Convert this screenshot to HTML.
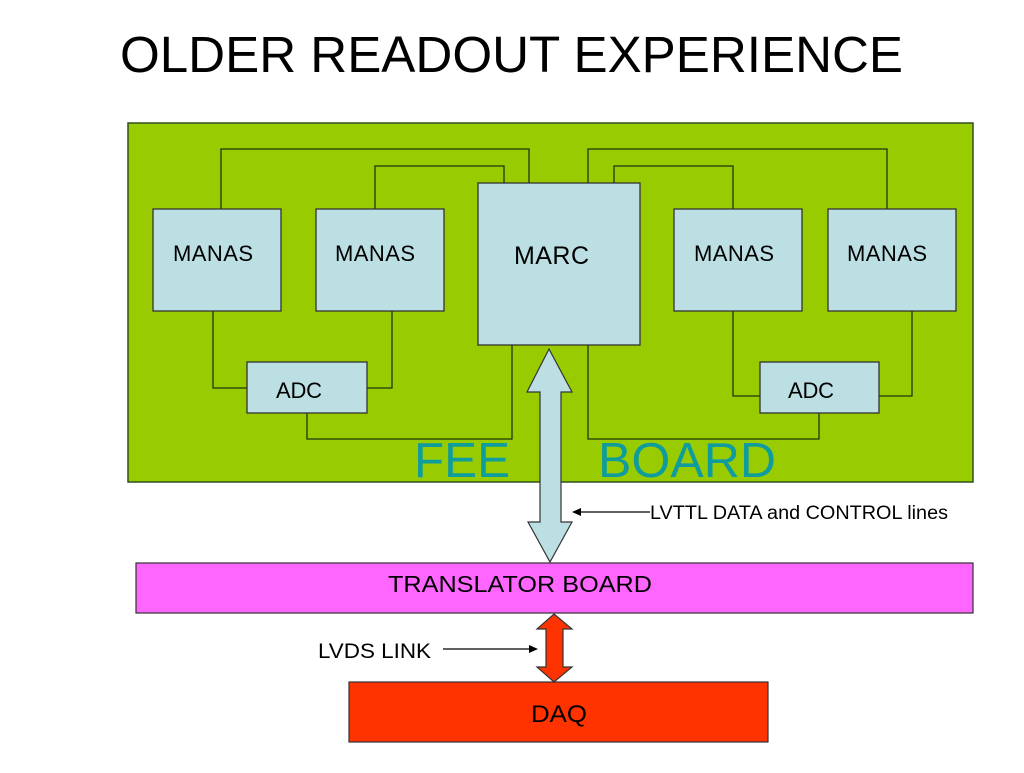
<!DOCTYPE html>
<html><head><style>
body{margin:0;width:1024px;height:768px;background:#fff;overflow:hidden;font-family:"Liberation Sans",sans-serif}
</style></head><body>
<svg width="1024" height="768" xmlns="http://www.w3.org/2000/svg" font-family="Liberation Sans, sans-serif">
<text x="120" y="72" font-size="51" textLength="783" lengthAdjust="spacingAndGlyphs" fill="#000">OLDER READOUT EXPERIENCE</text>
<rect x="128" y="123" width="845" height="359" fill="#99cc00" stroke="#2f4f1f" stroke-width="1.5"/>
<g fill="none" stroke="#223311" stroke-width="1.3">
<polyline points="221,209 221,149 529,149 529,183"/>
<polyline points="375,209 375,166 504,166 504,183"/>
<polyline points="213,311 213,388 247,388"/>
<polyline points="367,388 392,388 392,311"/>
<polyline points="307,413 307,439 512,439 512,345"/>
<polyline points="588,183 588,149 887,149 887,209"/>
<polyline points="614,183 614,166 733,166 733,209"/>
<polyline points="733,311 733,396 760,396"/>
<polyline points="879,396 912,396 912,311"/>
<polyline points="819,413 819,439 588,439 588,345"/>
</g>
<g fill="#bbdfe3" stroke="#333" stroke-width="1.3">
<rect x="478" y="183" width="162" height="162"/>
<rect x="153" y="209" width="128" height="102"/>
<rect x="316" y="209" width="128" height="102"/>
<rect x="674" y="209" width="128" height="102"/>
<rect x="828" y="209" width="128" height="102"/>
<rect x="247" y="362" width="120" height="51"/>
<rect x="760" y="362" width="119" height="51"/>
</g>
<g font-size="22" fill="#000" lengthAdjust="spacingAndGlyphs">
<text x="173" y="261" textLength="80">MANAS</text>
<text x="335" y="261" textLength="80">MANAS</text>
<text x="694" y="261" textLength="80">MANAS</text>
<text x="847" y="261" textLength="80">MANAS</text>
<text x="514" y="264" textLength="75" font-size="25">MARC</text>
<text x="276" y="398" textLength="46">ADC</text>
<text x="788" y="398" textLength="46">ADC</text>
</g>
<text x="414" y="477" font-size="49" textLength="96" lengthAdjust="spacingAndGlyphs" fill="#0f9c9c">FEE</text>
<text x="598" y="477" font-size="49" textLength="178" lengthAdjust="spacingAndGlyphs" fill="#0f9c9c">BOARD</text>
<rect x="136" y="563" width="837" height="50" fill="#ff66ff" stroke="#333" stroke-width="1.2"/>
<text x="388" y="592" font-size="23" textLength="264" lengthAdjust="spacingAndGlyphs" fill="#000">TRANSLATOR BOARD</text>
<polygon points="549,349 572,392 561,392 561,522 572,522 550,562 528,522 540,522 540,392 527,392" fill="#bbdfe3" stroke="#333" stroke-width="1.2"/>
<line x1="650" y1="512" x2="578" y2="512" stroke="#000" stroke-width="1.2"/>
<polygon points="572,512 581,508 581,516" fill="#000"/>
<text x="650" y="519" font-size="19" textLength="298" lengthAdjust="spacingAndGlyphs" fill="#000">LVTTL DATA and CONTROL lines</text>
<rect x="349" y="682" width="419" height="60" fill="#ff3300" stroke="#333" stroke-width="1.2"/>
<text x="531" y="722" font-size="24" textLength="56" lengthAdjust="spacingAndGlyphs" fill="#000">DAQ</text>
<polygon points="554,614 572,629 563,629 563,667 572,667 554,682 537,667 546,667 546,629 537,629" fill="#ff3300" stroke="#333" stroke-width="1.2"/>
<text x="318" y="658" font-size="21" textLength="113" lengthAdjust="spacingAndGlyphs" fill="#000">LVDS LINK</text>
<line x1="443" y1="649" x2="532" y2="649" stroke="#000" stroke-width="1.2"/>
<polygon points="538,649 529,645 529,653" fill="#000"/>
</svg>
</body></html>
